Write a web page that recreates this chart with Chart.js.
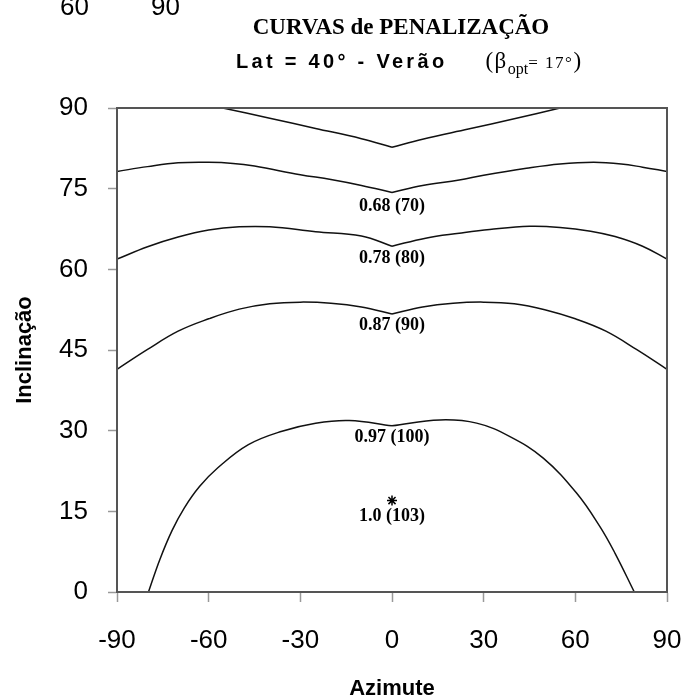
<!DOCTYPE html>
<html>
<head>
<meta charset="utf-8">
<script src="https://cdn.jsdelivr.net/npm/chart.js@4/dist/chart.umd.min.js"></script>
<style>
  body { margin: 0; background: #fff; }
  #wrap { position: relative; width: 689px; height: 700px; overflow: hidden; }
  #myChart { position: absolute; left: 0; top: 0; }
  .txt { position: absolute; white-space: nowrap; color: #000; }
  .cut { font: 26px "Liberation Sans", Arial, sans-serif; line-height: 26px; top: -7px; }
  .t1 { font: bold 23px "Liberation Serif", "Times New Roman", serif; line-height: 23px;
        left: 0; width: 802px; text-align: center; top: 15px; }
  .t2 { left: 236px; top: 48px; line-height: 20px; }
  .lat { font: bold 20px "Liberation Sans", Arial, sans-serif; letter-spacing: 3.3px; }
  .beta { font: 23px "Liberation Serif", "Times New Roman", serif; margin-left: 38px; letter-spacing: 1.5px; }
  .beta sub { font-size: 16px; vertical-align: -6px; letter-spacing: 0; }
  .beta .small { font-size: 17px; }
</style>
</head>
<body>
<div id="wrap">
  <canvas id="myChart" width="689" height="700"></canvas>
  <div class="txt cut" style="left:60px">60</div>
  <div class="txt cut" style="left:151px">90</div>
  <div class="txt t1">CURVAS de PENALIZAÇÃO</div>
  <div class="txt t2"><span class="lat">Lat = 40° - Verão</span><span class="beta">(β<sub>opt</sub><span class="small">= 17°</span>)</span></div>
</div>
<script>
// curves (azimute, inclinação)
const az60 = [-55.4, -40, -25, -10, 0, 10, 25, 40, 55];
const inc60 = [90, 88.1, 86.2, 84.3, 82.7, 84.2, 86.1, 88.0, 90];

const az70 = [-90, -80, -70, -60, -52, -45, -30, -20, -10, 0, 10, 22, 30, 44, 55, 66, 75, 82, 90];
const inc70 = [78.2, 79.1, 79.8, 79.9, 79.7, 79.2, 77.6, 76.7, 75.6, 74.3, 75.6, 76.6, 77.5, 78.8, 79.6, 79.9, 79.6, 79.0, 78.2];

const az80 = [-90, -80, -70, -60, -50, -40, -25, -10, 0, 11, 22, 32, 45, 55, 65, 73, 82, 90];
const inc80 = [61.9, 64.2, 66.0, 67.3, 67.9, 67.9, 67.0, 66.2, 64.3, 65.8, 66.7, 67.4, 68.0, 67.8, 67.1, 66.1, 64.3, 61.9];

const az90 = [-90, -80, -70, -60, -50, -40, -30, -20, -10, 0, 10, 20, 30, 40, 50, 60, 70, 80, 90];
const inc90 = [41.4, 45.1, 48.5, 50.8, 52.6, 53.6, 53.9, 53.7, 53.0, 51.7, 53.0, 53.7, 53.9, 53.6, 52.5, 50.8, 48.5, 45.1, 41.4];

const az100 = [-79.7, -76, -72, -68, -63, -57, -47, -36, -25, -14, 0, 15.7, 27.7, 38.6, 49.5, 60.4, 68, 73, 79.3];
const inc100 = [0, 6.0, 11.4, 15.6, 19.6, 23.1, 27.4, 29.9, 31.4, 31.9, 30.9, 32.0, 31.4, 28.9, 24.9, 18.4, 12.2, 7.2, 0];

const optAz = [0];
const optInc = [17];

const labelText = ['0.68 (70)', '0.78 (80)', '0.87 (90)', '0.97 (100)', '1.0 (103)'];
const labelInc = [71.8, 62.0, 49.6, 28.8, 14.0];

const xTicks = [-90, -60, -30, 0, 30, 60, 90];
const yTicks = [0, 15, 30, 45, 60, 75, 90];

// split each curve at azimute 0 so the notch stays sharp
function halves(az, inc) {
    const pts = az.map((x, i) => ({ x: x, y: inc[i] }));
    return [pts.filter(p => p.x <= 0), pts.filter(p => p.x >= 0)];
}

const curves = [[az60, inc60], [az70, inc70], [az80, inc80], [az90, inc90], [az100, inc100]];
const datasets = [];
curves.forEach(c => {
    halves(c[0], c[1]).forEach(part => {
        datasets.push({
            data: part,
            borderColor: '#111',
            borderWidth: 1.5,
            pointRadius: 0,
            fill: false,
            tension: 0.4
        });
    });
});
datasets.push({
    data: optAz.map((x, i) => ({ x: x, y: optInc[i] })),
    showLine: false,
    pointStyle: 'star',
    pointRadius: 5,
    borderColor: '#000',
    borderWidth: 1.5
});

const curveLabels = {
    id: 'curveLabels',
    afterDatasetsDraw(chart) {
        const ctx = chart.ctx;
        const xs = chart.scales.x, ys = chart.scales.y;
        ctx.save();
        ctx.font = 'bold 18px "Liberation Serif", "Times New Roman", serif';
        ctx.fillStyle = '#000';
        ctx.textAlign = 'center';
        ctx.textBaseline = 'middle';
        labelText.forEach((t, i) => {
            ctx.fillText(t, xs.getPixelForValue(0), ys.getPixelForValue(labelInc[i]));
        });
        ctx.restore();
    }
};

const frame = {
    id: 'frame',
    afterDraw(chart) {
        const a = chart.chartArea;
        const ctx = chart.ctx;
        ctx.save();
        ctx.strokeStyle = '#555';
        ctx.lineWidth = 2;
        ctx.strokeRect(a.left, a.top, a.right - a.left, a.bottom - a.top);
        ctx.restore();
    }
};

const tickFont = { family: '"Liberation Sans", Arial, sans-serif', size: 26 };
const titleFont = { family: '"Liberation Sans", Arial, sans-serif', size: 22, weight: 'bold' };

new Chart(document.getElementById('myChart').getContext('2d'), {
    type: 'line',
    data: { datasets: datasets },
    options: {
        responsive: false,
        animation: false,
        events: [],
        layout: { padding: { left: 0, right: 22, top: 108, bottom: 0 } },
        plugins: { legend: { display: false }, tooltip: { enabled: false } },
        scales: {
            x: {
                type: 'linear',
                min: -90,
                max: 90,
                afterBuildTicks: s => { s.ticks = xTicks.map(v => ({ value: v })); },
                afterFit: s => { s.height = 108; s.paddingLeft = 0; s.paddingRight = 0; },
                ticks: { font: tickFont, color: '#000', padding: 23, maxRotation: 0 },
                grid: { drawOnChartArea: false, drawTicks: true, tickLength: 10, tickColor: '#999', tickWidth: 1.5 },
                border: { color: '#555', width: 2 },
                title: { display: true, text: 'Azimute', font: titleFont, color: '#000', padding: { top: 0, bottom: -2 } }
            },
            y: {
                type: 'linear',
                min: 0,
                max: 90,
                afterBuildTicks: s => { s.ticks = yTicks.map(v => ({ value: v })); },
                afterFit: s => { s.width = 117; s.paddingTop = 0; s.paddingBottom = 0; },
                ticks: { font: tickFont, color: '#000', padding: 20 },
                grid: { drawOnChartArea: false, drawTicks: true, tickLength: 9, tickColor: '#999', tickWidth: 1.5 },
                border: { color: '#555', width: 2 },
                title: { display: true, text: 'Inclinação', font: titleFont, color: '#000', padding: { top: 12, bottom: 0 } }
            }
        }
    },
    plugins: [curveLabels, frame]
});
</script>
</body>
</html>
